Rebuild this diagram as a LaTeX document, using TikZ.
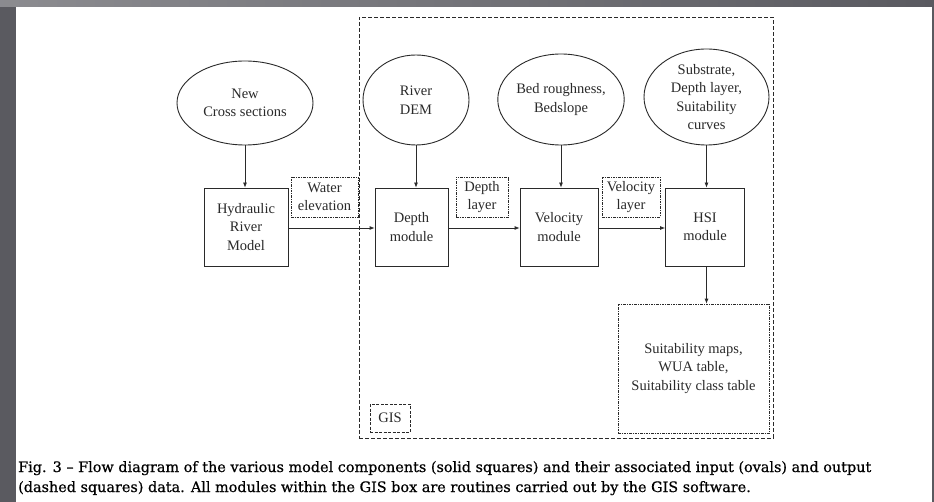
\documentclass[tikz,border=0pt]{standalone}
\usepackage{fontspec}
\setmainfont{Liberation Serif}
\newfontfamily\capfont[FakeBold=0.6]{DejaVu Serif}
\usetikzlibrary{shapes.geometric,arrows.meta}
\definecolor{bgdark}{HTML}{5A5A60}
\definecolor{ink}{HTML}{2A2A2A}
\begin{document}
\begin{tikzpicture}[x=1pt,y=-1pt,
  every node/.style={font=\fontsize{14.5}{18.5}\selectfont, text=ink, align=center, inner sep=0pt},
  modbox/.style={draw=ink, line width=0.8pt, rectangle},
  inoval/.style={draw=ink, line width=0.9pt, ellipse},
  outbox/.style={draw=ink, line width=0.7pt, rectangle, dash pattern=on 2.5pt off 1pt on 1pt off 1pt},
  gisbox/.style={draw=ink, line width=0.8pt, rectangle, dash pattern=on 4pt off 2pt},
  flow/.style={draw=ink, line width=0.8pt, -{Latex[length=5pt,width=4pt]}}
]
\useasboundingbox (0,0) rectangle (934,502);
\shade[left color=bgdark!70!white, right color=bgdark] (0,0) rectangle (934,502);
\fill[bgdark] (0,7) rectangle (934,502);
\fill[white] (16,7) rectangle (932,502);

% GIS frame
\node[gisbox, minimum width=414pt, minimum height=421pt] (gis) at (566,227.5) {};
\node[outbox, dash pattern=on 3pt off 1.5pt, minimum width=40pt, minimum height=28pt] (gislabel) at (390,418) {GIS};

% inputs
\node[inoval, minimum width=136pt, minimum height=84pt] (ncs) at (245,103) {New\\Cross sections};
\node[inoval, minimum width=106pt, minimum height=90pt] (dem) at (416,100) {River\\DEM};
\node[inoval, minimum width=116pt, minimum height=91pt] (bed) at (561,99.5) {Bed roughness,\\Bedslope};
\node[inoval, minimum width=125pt, minimum height=96pt] (sub) at (706.5,97) {Substrate,\\Depth layer,\\Suitability\\curves};

% modules
\node[modbox, minimum width=84pt, minimum height=78pt] (hrm) at (246,227) {Hydraulic\\River\\Model};
\node[modbox, minimum width=73pt, minimum height=78pt] (dm) at (411.5,227) {Depth\\module};
\node[modbox, minimum width=78pt, minimum height=78pt] (vm) at (559,227) {Velocity\\module};
\node[modbox, minimum width=79pt, minimum height=78pt] (hsi) at (705,227) {HSI\\module};

% outputs
\node[outbox, minimum width=67pt, minimum height=40pt] (we) at (324.5,197) {Water\\elevation};
\node[outbox, minimum width=52pt, minimum height=40pt] (dl) at (482,197) {Depth\\layer};
\node[outbox, minimum width=58pt, minimum height=40pt] (vl) at (631,197) {Velocity\\layer};
\node[outbox, minimum width=151pt, minimum height=129pt] (out) at (693.5,368.5) {Suitability maps,\\WUA table,\\Suitability class table};

% connectors
\draw[flow] (ncs.south) -- (ncs.south |- hrm.north);
\draw[flow] (dem.south) -- (dem.south |- dm.north);
\draw[flow] (bed.south) -- (bed.south |- vm.north);
\draw[flow] (sub.south) -- (sub.south |- hsi.north);
\draw[flow] ([yshift=-1pt]hrm.east) -- ([yshift=-1pt]dm.west);
\draw[flow] ([yshift=-1pt]dm.east) -- ([yshift=-1pt]vm.west);
\draw[flow] ([yshift=-1pt]vm.east) -- ([yshift=-1pt]hsi.west);
\draw[flow] (sub.south |- hsi.south) -- (sub.south |- out.north);

% caption
\node[anchor=base west, align=left, text=black, font=\capfont\fontsize{14.4}{20}\selectfont] (cap1) at (18,472) {Fig. 3 – Flow diagram of the various model components (solid squares) and their associated input (ovals) and output};
\node[anchor=base west, align=left, text=black, font=\capfont\fontsize{14.4}{20}\selectfont] (cap2) at (18,492) {(dashed squares) data. All modules within the GIS box are routines carried out by the GIS software.};
\end{tikzpicture}
\end{document}
